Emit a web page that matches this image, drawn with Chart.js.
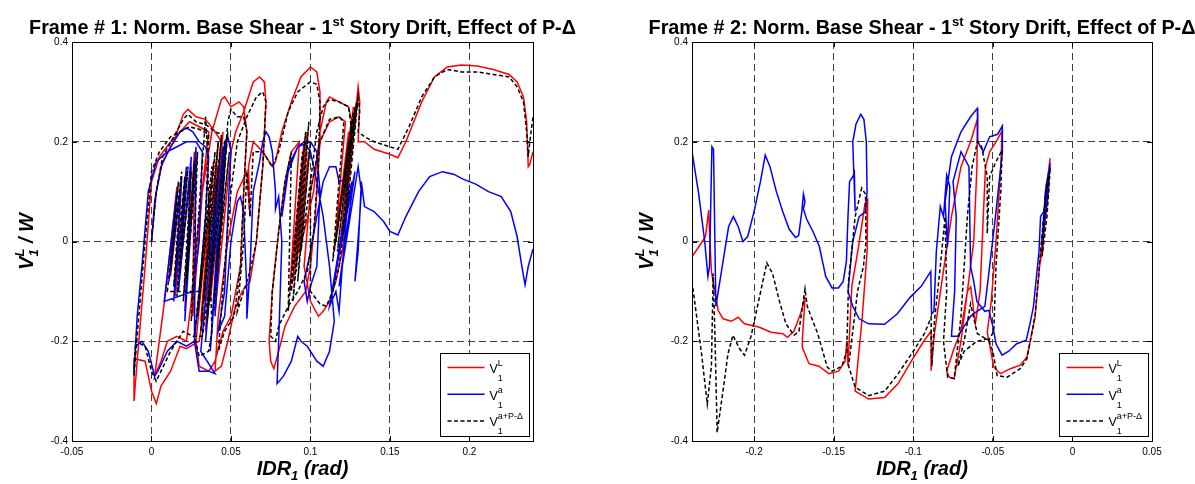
<!DOCTYPE html>
<html>
<head>
<meta charset="utf-8">
<script src="https://cdn.jsdelivr.net/npm/chart.js@4.4.1/dist/chart.umd.min.js"></script>
<style>
  html, body { margin: 0; padding: 0; background: #fff; }
  #wrap { position: relative; width: 1195px; height: 484px; overflow: hidden; }
  canvas { position: absolute; top: 0; }
  #frame1 { left: 0; }
  #frame2 { left: 597px; }
</style>
</head>
<body>
<div id="wrap">
  <canvas id="frame1" width="597" height="484"></canvas>
  <canvas id="frame2" width="598" height="484"></canvas>
</div>
<script>
"use strict";

// tick labels
const yTicks = [-0.4, -0.2, 0, 0.2, 0.4];
const xTicks1 = [-0.05, 0, 0.05, 0.1, 0.15, 0.2];
const xTicks2 = [-0.2, -0.15, -0.1, -0.05, 0, 0.05];
const legendSups = ['L', 'a', 'a+P-\u0394'];

// Frame 1 : [IDR1, V/W]
const f1Red = [
 [0.000,0.000],[0.003,0.100],[0.007,0.160],[0.014,0.200],[0.020,0.255],[0.023,0.265],[0.028,0.250],[0.034,0.245],[0.040,0.220],[0.044,0.200],
 [0.040,0.050],[0.035,-0.100],[0.030,-0.200],[0.022,-0.215],[0.018,-0.210],[0.012,-0.260],[0.006,-0.290],[0.003,-0.325],[0.000,-0.300],[-0.004,-0.240],
 [-0.011,-0.235],[-0.011,-0.320],[-0.008,-0.200],[-0.004,-0.050],[0.000,0.120],[0.005,0.170],[0.012,0.200],[0.018,0.220],[0.024,0.240],[0.030,0.230],
 [0.036,0.220],[0.030,0.050],[0.025,-0.120],[0.022,-0.200],[0.016,-0.190],[0.010,-0.200],[0.006,-0.240],[0.002,-0.270],
 [0.009,-0.100],[0.016,0.110],[0.012,-0.070],[0.019,0.130],[0.015,-0.110],[0.022,0.140],[0.018,-0.060],[0.025,0.150],[0.021,-0.140],[0.027,0.180],[0.026,-0.150],
 [0.032,0.100],[0.038,0.220],[0.044,0.285],[0.046,0.290],[0.050,0.270],[0.055,0.280],[0.058,0.270],[0.060,0.220],[0.058,0.100],[0.056,-0.050],
 [0.050,-0.150],[0.045,-0.180],[0.040,-0.240],[0.036,-0.260],[0.030,-0.250],
 [0.028,-0.200],[0.039,0.160],[0.031,-0.160],[0.042,0.200],[0.034,-0.180],[0.045,0.220],[0.037,-0.120],[0.047,0.200],[0.040,-0.140],[0.050,0.180],
 [0.053,0.220],[0.058,0.260],[0.064,0.320],[0.068,0.330],
 [0.071,0.320],[0.072,0.280],[0.070,0.150],[0.066,0.000],[0.062,-0.080],[0.057,-0.100],[0.052,-0.140],[0.048,-0.200],[0.044,-0.250],[0.040,-0.260],
 [0.042,-0.150],[0.048,0.000],[0.054,0.100],[0.060,0.140],[0.062,0.050],[0.061,0.150],[0.064,0.200],[0.070,0.180],[0.076,0.150],[0.078,0.160],
 [0.082,0.220],[0.088,0.280],[0.094,0.330],[0.100,0.350],[0.104,0.340],[0.106,0.300],[0.106,0.200],[0.103,0.050],[0.100,-0.050],[0.097,-0.100],
 [0.090,-0.130],[0.084,-0.170],[0.080,-0.220],[0.077,-0.255],[0.075,-0.240],[0.074,-0.200],[0.076,-0.100],[0.080,0.020],[0.084,0.120],[0.088,0.180],
 [0.093,0.200],[0.087,-0.100],[0.096,0.200],[0.089,-0.080],[0.098,0.220],[0.091,-0.050],[0.099,0.180],[0.093,-0.020],[0.102,0.100],[0.106,0.220],
 [0.110,0.280],[0.112,0.290],[0.118,0.280],[0.124,0.270],[0.126,0.240],[0.124,0.100],[0.120,-0.020],[0.116,-0.080],[0.112,-0.120],[0.108,-0.140],
 [0.105,-0.150],[0.100,-0.120],[0.096,-0.050],[0.100,0.100],[0.106,0.200],[0.112,0.240],[0.118,0.250],[0.122,0.240],
 [0.115,-0.020],[0.124,0.220],[0.117,0.020],[0.126,0.250],[0.119,0.000],[0.127,0.270],[0.121,0.060],[0.129,0.280],[0.123,0.080],[0.130,0.310],[0.131,0.280],[0.130,0.200],
 [0.134,0.200],[0.140,0.185],[0.150,0.175],[0.155,0.168],[0.160,0.200],[0.170,0.280],[0.178,0.330],[0.186,0.350],[0.195,0.354],[0.205,0.352],
 [0.215,0.345],[0.225,0.335],[0.230,0.320],[0.234,0.290],[0.236,0.240],[0.237,0.150],[0.238,0.155],[0.240,0.180]
];
const f1Blue = [
 [0.000,0.000],[0.002,0.080],[0.006,0.150],[0.012,0.190],[0.018,0.220],[0.022,0.228],[0.026,0.220],[0.030,0.200],[0.034,0.190],[0.036,0.170],
 [0.034,0.050],[0.030,-0.100],[0.027,-0.200],[0.022,-0.210],[0.016,-0.200],[0.010,-0.220],[0.004,-0.260],[0.002,-0.270],[-0.002,-0.220],[-0.006,-0.200],
 [-0.010,-0.210],[-0.011,-0.260],[-0.009,-0.150],[-0.006,-0.050],[-0.002,0.100],[0.003,0.160],[0.010,0.180],[0.016,0.190],[0.022,0.200],[0.028,0.200],
 [0.032,0.180],[0.030,0.000],[0.026,-0.100],
 [0.008,-0.120],[0.016,0.100],[0.011,-0.080],[0.019,0.130],[0.014,-0.120],[0.022,0.150],[0.017,-0.100],[0.025,0.170],[0.021,-0.160],[0.028,0.190],[0.027,-0.200],
 [0.030,-0.260],[0.036,-0.260],[0.040,-0.265],
 [0.031,-0.220],[0.042,0.150],[0.034,-0.200],[0.045,0.190],[0.037,-0.220],[0.047,0.200],[0.040,-0.150],[0.046,0.200],
 [0.048,0.210],[0.050,0.180],[0.048,0.050],[0.046,-0.100],[0.042,-0.180],[0.046,-0.150],[0.050,0.000],
 [0.054,0.080],[0.056,0.090],[0.058,0.060],[0.060,-0.100],[0.060,-0.155],[0.062,-0.050],[0.064,0.100],[0.068,0.160],[0.070,0.200],[0.072,0.220],
 [0.074,0.210],[0.076,0.180],[0.078,0.100],[0.078,0.065],[0.080,0.090],[0.082,0.000],[0.080,-0.200],[0.079,-0.285],[0.083,-0.270],[0.088,-0.240],
 [0.092,-0.190],[0.094,-0.200],[0.098,-0.210],[0.104,-0.240],[0.108,-0.250],[0.112,-0.220],[0.115,-0.160],[0.112,-0.050],[0.108,0.050],[0.104,0.120],
 [0.100,0.180],[0.096,0.200],[0.092,0.190],[0.086,0.140],[0.082,0.050],[0.086,0.150],[0.092,0.190],[0.100,0.200],[0.104,0.180],[0.106,0.100],
 [0.104,-0.050],[0.100,-0.090],[0.098,-0.120],[0.096,-0.080],[0.100,-0.020],[0.104,0.050],[0.108,0.120],[0.112,0.150],[0.116,0.150],[0.118,0.120],
 [0.122,0.125],[0.124,0.100],[0.120,-0.050],[0.118,-0.140],[0.116,-0.100],
 [0.112,-0.130],[0.124,0.100],[0.114,-0.100],[0.126,0.120],[0.116,-0.060],[0.128,0.140],[0.118,-0.090],[0.130,0.150],
 [0.132,0.100],[0.131,0.050],[0.128,-0.080],[0.130,-0.020],[0.132,0.120],[0.134,0.070],[0.140,0.060],[0.146,0.040],
 [0.150,0.020],[0.155,0.013],[0.160,0.050],[0.168,0.100],[0.175,0.130],[0.183,0.140],[0.190,0.135],[0.196,0.125],[0.204,0.115],[0.212,0.100],
 [0.220,0.090],[0.226,0.060],[0.230,0.010],[0.233,-0.050],[0.235,-0.087],[0.237,-0.050],[0.240,-0.015]
];
const f1Black = [
 [0.000,0.000],[0.003,0.100],[0.007,0.170],[0.014,0.210],[0.020,0.245],[0.023,0.255],[0.028,0.240],[0.034,0.235],[0.040,0.220],[0.044,0.215],
 [0.040,0.050],[0.036,-0.100],[0.032,-0.190],[0.026,-0.190],[0.020,-0.180],[0.012,-0.220],[0.006,-0.260],[0.003,-0.280],[0.000,-0.260],[-0.004,-0.210],
 [-0.010,-0.200],[-0.011,-0.270],[-0.008,-0.150],[-0.004,0.000],[0.000,0.140],[0.005,0.180],[0.012,0.210],[0.018,0.220],[0.024,0.230],[0.030,0.225],
 [0.036,0.215],[0.034,0.050],[0.030,-0.100],
 [0.010,-0.100],[0.017,0.120],[0.012,-0.060],[0.019,0.140],[0.014,-0.090],[0.021,0.130],[0.016,-0.110],[0.023,0.150],[0.018,-0.050],[0.025,0.140],
 [0.020,-0.120],[0.027,0.160],[0.022,-0.080],[0.029,0.180],[0.025,-0.160],[0.034,0.250],[0.035,0.200],[0.038,-0.180],
 [0.036,-0.220],[0.030,-0.230],
 [0.027,-0.190],[0.038,0.150],[0.029,-0.150],[0.040,0.180],[0.031,-0.180],[0.042,0.200],[0.033,-0.120],[0.044,0.210],[0.035,-0.160],[0.046,0.200],
 [0.037,-0.100],[0.048,0.220],[0.039,-0.140],[0.049,0.180],[0.041,-0.050],[0.048,0.240],
 [0.050,0.265],[0.054,0.250],[0.058,0.250],[0.060,0.220],[0.058,0.100],[0.056,-0.050],[0.052,-0.150],
 [0.046,-0.180],[0.042,-0.220],[0.046,-0.050],[0.050,0.100],[0.054,0.200],[0.060,0.250],[0.066,0.290],[0.070,0.300],[0.072,0.280],[0.070,0.150],
 [0.066,0.000],[0.062,-0.060],[0.058,-0.100],[0.054,-0.140],[0.058,0.000],[0.060,0.140],[0.062,0.050],[0.064,0.180],[0.070,0.180],[0.076,0.150],
 [0.080,0.180],[0.086,0.260],[0.092,0.300],[0.100,0.320],[0.104,0.315],[0.106,0.280],[0.105,0.150],[0.102,0.020],[0.098,-0.060],[0.092,-0.100],
 [0.086,-0.130],[0.080,-0.170],[0.078,-0.200],[0.075,-0.190],[0.076,-0.100],[0.080,0.020],[0.084,0.120],[0.088,0.180],
 [0.086,-0.140],[0.095,0.180],[0.088,-0.100],[0.097,0.220],[0.089,-0.120],[0.098,0.200],[0.091,-0.060],[0.099,0.240],[0.092,-0.080],[0.100,0.200],[0.094,-0.020],
 [0.100,0.120],[0.104,0.220],[0.108,0.270],
 [0.112,0.285],[0.118,0.280],[0.124,0.270],[0.126,0.220],[0.122,0.050],[0.118,-0.050],[0.114,-0.100],[0.110,-0.130],[0.106,-0.125],[0.100,-0.100],
 [0.100,0.100],[0.106,0.200],[0.112,0.245],[0.118,0.250],[0.121,0.240],
 [0.114,-0.040],[0.124,0.200],[0.116,0.000],[0.126,0.240],[0.117,-0.020],[0.127,0.260],[0.119,0.040],[0.128,0.270],[0.120,0.020],[0.129,0.280],
 [0.122,0.080],[0.130,0.290],[0.123,0.060],[0.130,0.290],[0.131,0.260],
 [0.130,0.220],[0.134,0.210],[0.140,0.200],[0.150,0.190],[0.155,0.185],[0.162,0.230],[0.170,0.290],[0.178,0.330],[0.186,0.345],[0.195,0.340],
 [0.205,0.340],[0.215,0.335],[0.225,0.330],[0.230,0.310],[0.234,0.280],[0.236,0.220],[0.237,0.170],[0.238,0.200],[0.240,0.250]
];

// Frame 2 : [IDR1, V/W]
const f2Red = [
 [-0.2390,-0.030],[-0.2350,-0.012],[-0.2305,0.010],[-0.2285,0.063],[-0.2280,0.020],[-0.2268,-0.060],[-0.2226,-0.138],[-0.2195,-0.155],[-0.2143,-0.160],[-0.2100,-0.152],
 [-0.2060,-0.165],[-0.1966,-0.172],[-0.1894,-0.182],[-0.1820,-0.185],[-0.1790,-0.192],[-0.1750,-0.180],[-0.1708,-0.145],[-0.1680,-0.111],[-0.1697,-0.200],[-0.1697,-0.212],
 [-0.1655,-0.245],[-0.1593,-0.250],[-0.1530,-0.265],[-0.1469,-0.260],[-0.1428,-0.240],[-0.1417,-0.200],[-0.1410,-0.250],[-0.1386,-0.090],[-0.1344,-0.011],[-0.1303,0.076],
 [-0.1286,0.084],[-0.1290,-0.020],[-0.1320,-0.150],[-0.1365,-0.300],[-0.1280,-0.316],[-0.1180,-0.313],[-0.1095,-0.285],[-0.1010,-0.239],[-0.0930,-0.198],[-0.0888,-0.180],
 [-0.0888,-0.259],[-0.0867,-0.185],[-0.0820,-0.080],[-0.0760,0.050],[-0.0700,0.150],[-0.0640,0.200],[-0.0597,0.245],[-0.0600,0.150],[-0.0620,0.000],[-0.0660,-0.100],
 [-0.0700,-0.178],[-0.0750,-0.220],[-0.0790,-0.260],[-0.0774,-0.272],[-0.0743,-0.275],[-0.0700,-0.200],[-0.0660,-0.100],[-0.0639,-0.091],[-0.0610,-0.165],[-0.0580,-0.100],
 [-0.0560,0.050],[-0.0546,0.150],[-0.0520,0.180],[-0.0480,0.200],[-0.0442,0.222],[-0.0450,0.150],[-0.0480,0.000],[-0.0510,-0.120],[-0.0535,-0.182],[-0.0494,-0.252],
 [-0.0452,-0.265],[-0.0390,-0.255],[-0.0328,-0.248],[-0.0286,-0.232],[-0.0235,-0.152],[-0.0193,-0.004],[-0.0141,0.167],[-0.0150,0.100],[-0.0175,0.030],[-0.0200,-0.040],
 [-0.0170,0.090],[-0.0145,0.150]
];
const f2Blue = [
 [-0.2390,0.180],[-0.2350,0.100],[-0.2310,0.000],[-0.2290,-0.070],[-0.2280,-0.050],[-0.2265,0.190],[-0.2255,0.185],[-0.2240,-0.130],[-0.2200,-0.050],[-0.2160,0.030],
 [-0.2130,0.050],[-0.2100,0.030],[-0.2070,0.000],[-0.2040,0.010],[-0.2000,0.060],[-0.1960,0.120],[-0.1930,0.173],[-0.1900,0.150],[-0.1860,0.100],[-0.1820,0.060],
 [-0.1780,0.025],[-0.1740,0.008],[-0.1720,0.012],[-0.1700,0.060],[-0.1690,0.095],[-0.1680,0.080],[-0.1690,0.065],[-0.1670,0.045],[-0.1630,0.020],[-0.1590,-0.010],
 [-0.1550,-0.070],[-0.1510,-0.093],[-0.1470,-0.093],[-0.1440,-0.080],[-0.1420,-0.040],[-0.1410,0.050],[-0.1400,0.120],[-0.1380,0.130],[-0.1370,0.138],[-0.1365,0.060],
 [-0.1380,0.200],[-0.1360,0.235],[-0.1330,0.255],[-0.1310,0.245],[-0.1295,0.200],[-0.1290,0.100],[-0.1300,0.060],[-0.1340,0.050],[-0.1380,0.000],[-0.1410,-0.100],
 [-0.1380,-0.130],[-0.1340,-0.155],[-0.1280,-0.165],[-0.1180,-0.166],[-0.1100,-0.145],[-0.1020,-0.112],[-0.0950,-0.090],[-0.0890,-0.060],[-0.0885,-0.145],[-0.0870,-0.140],
 [-0.0855,-0.020],[-0.0830,0.070],[-0.0810,0.050],[-0.0790,0.133],[-0.0770,0.110],[-0.0785,-0.010],[-0.0800,0.080],[-0.0760,0.170],[-0.0700,0.220],[-0.0640,0.250],
 [-0.0597,0.267],[-0.0595,0.200],[-0.0560,0.180],[-0.0520,0.210],[-0.0470,0.215],[-0.0440,0.232],[-0.0440,0.180],[-0.0480,0.060],[-0.0520,-0.050],[-0.0550,-0.130],
 [-0.0600,-0.140],[-0.0640,-0.150],[-0.0680,-0.170],[-0.0720,-0.190],[-0.0760,-0.190],[-0.0740,-0.100],[-0.0730,0.050],[-0.0750,0.120],[-0.0700,0.180],[-0.0650,0.150],
 [-0.0640,-0.050],[-0.0620,-0.080],[-0.0600,-0.120],[-0.0550,-0.140],[-0.0525,-0.138],[-0.0500,-0.170],[-0.0480,-0.205],[-0.0442,-0.228],[-0.0400,-0.220],[-0.0350,-0.205],
 [-0.0290,-0.198],[-0.0270,-0.170],[-0.0245,-0.131],[-0.0210,-0.020],[-0.0200,0.050],[-0.0180,0.060],[-0.0160,0.110],[-0.0141,0.157],[-0.0160,0.080],[-0.0190,0.000],
 [-0.0170,0.100],[-0.0150,0.140]
];
const f2Black = [
 [-0.2390,-0.080],[-0.2330,-0.225],[-0.2294,-0.326],[-0.2268,-0.250],[-0.2257,-0.064],[-0.2245,-0.200],[-0.2232,-0.383],[-0.2195,-0.299],[-0.2164,-0.225],[-0.2133,-0.188],
 [-0.2091,-0.215],[-0.2060,-0.228],[-0.2019,-0.190],[-0.1966,-0.111],[-0.1920,-0.043],[-0.1884,-0.064],[-0.1842,-0.118],[-0.1800,-0.165],[-0.1749,-0.188],[-0.1718,-0.180],
 [-0.1680,-0.095],[-0.1666,-0.130],[-0.1600,-0.185],[-0.1540,-0.252],[-0.1510,-0.260],[-0.1448,-0.250],[-0.1418,-0.220],[-0.1406,-0.078],[-0.1365,0.050],[-0.1324,0.107],
 [-0.1300,0.095],[-0.1297,0.000],[-0.1313,-0.050],[-0.1350,-0.100],[-0.1406,-0.250],[-0.1365,-0.292],[-0.1280,-0.309],[-0.1179,-0.300],[-0.1095,-0.265],[-0.1010,-0.225],
 [-0.0930,-0.185],[-0.0888,-0.152],[-0.0884,-0.250],[-0.0867,-0.160],[-0.0830,-0.050],[-0.0800,0.050],[-0.0790,-0.100],[-0.0810,-0.200],[-0.0784,-0.272],[-0.0743,-0.275],
 [-0.0700,-0.150],[-0.0660,0.050],[-0.0630,0.150],[-0.0597,0.200],[-0.0570,0.190],[-0.0535,0.130],[-0.0535,0.016],[-0.0520,0.130],[-0.0480,0.160],[-0.0442,0.183],
 [-0.0450,0.100],[-0.0480,-0.050],[-0.0494,-0.180],[-0.0525,-0.198],[-0.0570,-0.190],[-0.0597,-0.185],[-0.0640,-0.125],[-0.0680,-0.200],[-0.0720,-0.250],[-0.0680,-0.220],
 [-0.0600,-0.200],[-0.0530,-0.195],[-0.0500,-0.220],[-0.0473,-0.269],[-0.0410,-0.272],[-0.0328,-0.255],[-0.0286,-0.235],[-0.0235,-0.150],[-0.0200,-0.020],[-0.0162,0.117],
 [-0.0141,0.140],[-0.0160,0.050],[-0.0190,-0.030],[-0.0170,0.080],[-0.0150,0.130]
];

const FONT = "'Liberation Sans', Arial, Helvetica, sans-serif";
Chart.defaults.font.family = FONT;
Chart.defaults.color = '#000';

// parts: [text, style, size, dy, advance]
function partsWidth(ctx, parts) {
  let w = 0;
  parts.forEach(([t, st, sz, dy, adv]) => {
    ctx.font = `${st} ${sz}px ${FONT}`;
    if (adv !== false) w += ctx.measureText(t).width;
  });
  return w;
}

function drawParts(ctx, parts, x, y, align) {
  let cx = align === 'center' ? x - partsWidth(ctx, parts) / 2 : x;
  parts.forEach(([t, st, sz, dy, adv]) => {
    ctx.font = `${st} ${sz}px ${FONT}`;
    ctx.fillText(t, cx, y + dy);
    if (adv !== false) cx += ctx.measureText(t).width;
  });
}

const framePlugin = {
  id: 'matlabFrame',
  afterDraw(chart, args, opts) {
    const {ctx, chartArea: a, scales} = chart;
    ctx.save();
    ctx.setLineDash([]);
    ctx.strokeStyle = '#000';
    ctx.lineWidth = 1;
    ctx.strokeRect(a.left + 0.5, a.top + 0.5, a.right - a.left, a.bottom - a.top);

    // inward tick marks on all four sides
    ctx.beginPath();
    scales.x.ticks.forEach(t => {
      const px = Math.round(scales.x.getPixelForValue(t.value)) + 0.5;
      ctx.moveTo(px, a.bottom); ctx.lineTo(px, a.bottom - 5);
      ctx.moveTo(px, a.top); ctx.lineTo(px, a.top + 5);
    });
    scales.y.ticks.forEach(t => {
      const py = Math.round(scales.y.getPixelForValue(t.value)) + 0.5;
      ctx.moveTo(a.left, py); ctx.lineTo(a.left + 5, py);
      ctx.moveTo(a.right, py); ctx.lineTo(a.right - 5, py);
    });
    ctx.stroke();

    ctx.fillStyle = '#000';
    ctx.textBaseline = 'alphabetic';
    ctx.textAlign = 'left';
    const cx = (a.left + a.right) / 2;

    // title
    drawParts(ctx, [
      ['Frame # ' + opts.frameNo + ': Norm. Base Shear - 1', 'bold', 19.8, 0],
      ['st', 'bold', 13, -8],
      [' Story Drift, Effect of P-\u0394', 'bold', 19.8, 0]
    ], cx, 34, 'center');

    // x axis label
    drawParts(ctx, [
      ['IDR', 'italic bold', 20, 0],
      ['1', 'italic bold', 13, 5],
      [' (rad)', 'italic bold', 20, 0]
    ], cx, 475, 'center');

    // y axis label
    ctx.save();
    ctx.translate(a.left - 39, (a.top + a.bottom) / 2);
    ctx.rotate(-Math.PI / 2);
    drawParts(ctx, [
      ['V', 'italic bold', 20, 0],
      ['1', 'italic bold', 13, 5, false],
      ['L', 'italic bold', 13, -9],
      [' / W', 'italic bold', 20, 0]
    ], 0, 0, 'center');
    ctx.restore();

    // legend box
    const bx = Math.round(a.right - 93) + 0.5, by = Math.round(a.bottom - 88) + 0.5;
    ctx.fillStyle = '#fff';
    ctx.fillRect(bx, by, 89, 83);
    ctx.strokeStyle = '#000';
    ctx.lineWidth = 1;
    ctx.strokeRect(bx, by, 89, 83);
    chart.data.datasets.forEach((ds, i) => {
      const ly = by + 14 + i * 26.7;
      ctx.save();
      ctx.strokeStyle = ds.borderColor;
      ctx.lineWidth = ds.borderWidth;
      ctx.setLineDash(ds.borderDash || []);
      ctx.beginPath();
      ctx.moveTo(bx + 7, ly);
      ctx.lineTo(bx + 44, ly);
      ctx.stroke();
      ctx.restore();
      ctx.fillStyle = '#000';
      drawParts(ctx, [
        ['V', 'normal', 12.5, 0],
        ['1', 'normal', 9, 8, false],
        [legendSups[i], 'normal', 9, -7]
      ], bx + 49, ly + 5.5, 'left');
    });
    ctx.restore();
  }
};

function toPoints(arr) {
  return arr.map(([x, y]) => ({x, y}));
}

function makeFrame(id, frameNo, xMin, xMax, xTicks, yAxisWidth, padRight, red, blue, black) {
  const fmt = v => String(Math.round(v * 100) / 100);
  return new Chart(document.getElementById(id), {
    type: 'scatter',
    data: {
      datasets: [
        {
          label: 'V1L',
          data: toPoints(red),
          borderColor: '#ff0000',
          borderWidth: 1.5,
          showLine: true,
          pointRadius: 0,
          order: 2
        },
        {
          label: 'V1a',
          data: toPoints(blue),
          borderColor: '#0000ff',
          borderWidth: 1.5,
          showLine: true,
          pointRadius: 0,
          order: 1
        },
        {
          label: 'V1a+P-\u0394',
          data: toPoints(black),
          borderColor: '#000000',
          borderWidth: 1.5,
          borderDash: [4, 2.5],
          showLine: true,
          pointRadius: 0,
          order: 0
        }
      ]
    },
    options: {
      responsive: false,
      animation: false,
      events: [],
      layout: {
        padding: {top: 42, right: padRight, bottom: 0, left: 0}
      },
      plugins: {
        legend: {display: false},
        tooltip: {enabled: false},
        matlabFrame: {frameNo}
      },
      scales: {
        x: {
          type: 'linear',
          min: xMin,
          max: xMax,
          afterBuildTicks: s => { s.ticks = xTicks.map(v => ({value: v})); },
          afterFit: s => { s.height = 43; },
          grid: {color: '#404040', lineWidth: 1, drawTicks: false},
          border: {display: false, dash: [7, 4]},
          ticks: {padding: 5, font: {size: 10}, color: '#000', callback: fmt}
        },
        y: {
          type: 'linear',
          min: -0.4,
          max: 0.4,
          afterBuildTicks: s => { s.ticks = yTicks.map(v => ({value: v})); },
          afterFit: s => { s.width = yAxisWidth; },
          grid: {color: '#404040', lineWidth: 1, drawTicks: false},
          border: {display: false, dash: [7, 4]},
          ticks: {padding: 4, font: {size: 10}, color: '#000', callback: fmt}
        }
      }
    },
    plugins: [framePlugin]
  });
}

makeFrame('frame1', 1, -0.05, 0.24, xTicks1, 72, 64, f1Red, f1Blue, f1Black);
makeFrame('frame2', 2, -0.239, 0.05, xTicks2, 95, 43, f2Red, f2Blue, f2Black);
</script>
</body>
</html>
